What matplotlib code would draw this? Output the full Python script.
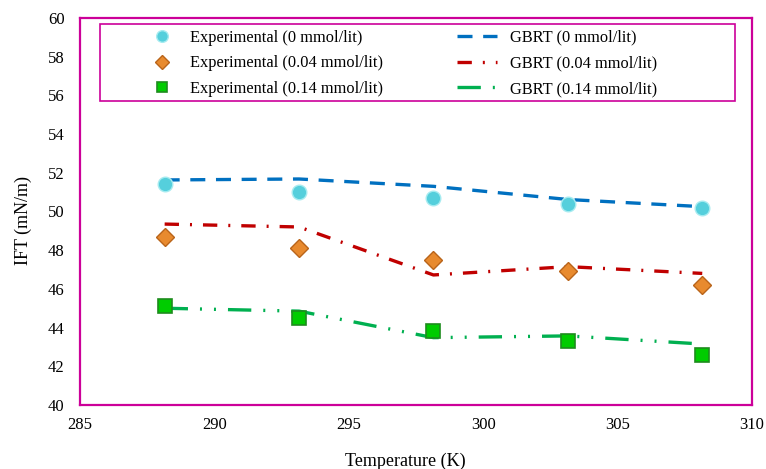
import matplotlib.pyplot as plt
from matplotlib.patches import Rectangle

plt.rcParams['font.family'] = ['Liberation Serif', 'DejaVu Serif']

# Températures (K) et tensions interfaciales (mN/m)
temperature = [288.15, 293.15, 298.15, 303.15, 308.15]

exp_0 = [51.4, 51.0, 50.7, 50.4, 50.2]
exp_004 = [48.7, 48.1, 47.5, 46.9, 46.2]
exp_014 = [45.1, 44.5, 43.8, 43.3, 42.6]

gbrt_0 = [51.63, 51.68, 51.3, 50.62, 50.25]
gbrt_004 = [49.35, 49.2, 46.72, 47.15, 46.8]
gbrt_014 = [45.0, 44.85, 43.48, 43.57, 43.15]

labels_exp = ["Experimental (0 mmol/lit)", "Experimental (0.04 mmol/lit)",
              "Experimental (0.14 mmol/lit)"]
labels_gbrt = ["GBRT (0 mmol/lit)", "GBRT (0.04 mmol/lit)", "GBRT (0.14 mmol/lit)"]

magenta = '#CC0099'
blue, red, green = '#0070C0', '#C00000', '#00B050'

fig = plt.figure(figsize=(7.66, 4.69), dpi=100)
ax = fig.add_axes([0.1044, 0.1365, 0.8773, 0.8251])

lw = 2.4
l1, = ax.plot(temperature, gbrt_0, color=blue, lw=lw, dashes=(4.5, 3.2))
l2, = ax.plot(temperature, gbrt_004, color=red, lw=lw, dashes=(4.3, 3.3, 0.6, 3.3))
l3, = ax.plot(temperature, gbrt_014, color=green, lw=lw,
              dashes=(7, 3.6, 0.6, 3.6, 0.6, 3.6))

m1, = ax.plot(temperature, exp_0, ls='none', marker='o', ms=10.5,
              mfc='#55CFDC', mec='#A6EBF0', mew=1.0)
m2, = ax.plot(temperature, exp_004, ls='none', marker='D', ms=9,
              mfc='#E88A2E', mec='#B9641A', mew=1.0)
m3, = ax.plot(temperature, exp_014, ls='none', marker='s', ms=9.5,
              mfc='#00CC00', mec='#1E8C1E', mew=1.2)

ax.set_xlim(285, 310)
ax.set_ylim(40, 60)
ax.set_xticks(range(285, 311, 5))
ax.set_yticks(range(40, 61, 2))
ax.tick_params(length=0, labelsize=12)
ax.tick_params(axis='x', pad=9)
ax.tick_params(axis='y', pad=11)

for s in ax.spines.values():
    s.set_color(magenta)
    s.set_linewidth(1.6)

ax.set_xlabel('Temperature (K)', fontsize=13)
ax.set_ylabel('IFT (mN/m)', fontsize=13)
ax.xaxis.set_label_coords(0.4836, -0.122)
ax.yaxis.set_label_coords(-0.072, 0.478)

# Cadre de la légende
ax.add_patch(Rectangle((0.03, 0.7855), 0.945, 0.199, transform=ax.transAxes,
                       fill=False, edgecolor=magenta, lw=1.2, zorder=5))

leg1 = ax.legend([m1, m2, m3], labels_exp, loc='upper left',
                 bbox_to_anchor=(0.0975, 0.987), frameon=False, fontsize=11.75,
                 handlelength=1.2, handletextpad=1.1, labelspacing=0.6,
                 markerscale=0.8, borderaxespad=0)
ax.add_artist(leg1)
ax.legend([l1, l2, l3], labels_gbrt, loc='upper left',
          bbox_to_anchor=(0.551, 0.987), frameon=False, fontsize=11.75,
          handlelength=2.45, handletextpad=0.8, labelspacing=0.6,
          borderaxespad=0)

fig.savefig('out.png', dpi=100)
